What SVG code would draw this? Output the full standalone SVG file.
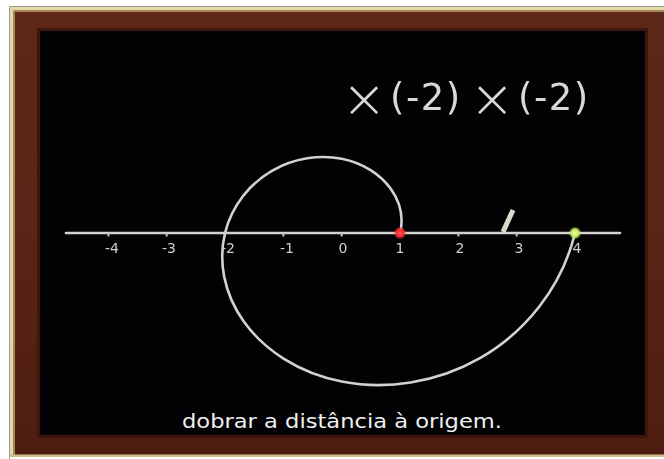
<svg xmlns="http://www.w3.org/2000/svg" width="664" height="459" viewBox="0 0 664 459">
  <defs>
    <style>
      .chalk { fill: none; stroke: #d2d2d2; stroke-width: 2.6; stroke-linecap: round; }
      .tick { stroke: #c8c8c8; stroke-width: 2; }
      .num { font-family: "DejaVu Sans", "Liberation Sans", sans-serif; font-size: 14px; fill: #cdcdcd; text-anchor: middle; }
      .big { font-family: "DejaVu Sans", "Liberation Sans", sans-serif; fill: #d8d8d8; }
      .times { font-weight: 200; }
      .sub { font-family: "DejaVu Sans", "Liberation Sans", sans-serif; font-size: 19px; fill: #f0f0f0; }
    </style>
    <linearGradient id="wood" x1="0" y1="0" x2="0" y2="1">
      <stop offset="0" stop-color="#5e2819"/>
      <stop offset="0.5" stop-color="#5a2416"/>
      <stop offset="1" stop-color="#4e1d12"/>
    </linearGradient>
    <radialGradient id="redGlow">
      <stop offset="0" stop-color="#ff5a5a"/>
      <stop offset="0.55" stop-color="#ff2a2a"/>
      <stop offset="1" stop-color="#ff2a2a" stop-opacity="0"/>
    </radialGradient>
    <radialGradient id="greenGlow">
      <stop offset="0" stop-color="#e8ff9a"/>
      <stop offset="0.55" stop-color="#c8f060"/>
      <stop offset="1" stop-color="#c8f060" stop-opacity="0"/>
    </radialGradient>
    <filter id="soft" x="-5%" y="-5%" width="110%" height="110%">
      <feGaussianBlur stdDeviation="0.5"/>
    </filter>
  </defs>

  <!-- background and frame -->
  <rect x="0" y="0" width="664" height="459" fill="#ffffff"/>
  <path d="M9.5,459 V6.5 H664" fill="none" stroke="#9a9a9a" stroke-width="1"/>
  <rect x="10" y="7" width="654" height="450" fill="url(#wood)"/>
  <rect x="10" y="7" width="654" height="3.5" fill="#e4d8a4"/>
  <rect x="10" y="7" width="3.5" height="450" fill="#e4d8a4"/>
  <rect x="13.5" y="10.5" width="650.5" height="1.5" fill="#a88a5a"/>
  <rect x="13.5" y="10.5" width="1.5" height="446.5" fill="#a88a5a"/>
  <rect x="10" y="454.5" width="654" height="2.5" fill="#cdbf8a"/>
  <rect x="37" y="28" width="611" height="410" fill="#3e160d"/>
  <rect x="40" y="31" width="605" height="404" fill="#020204"/>

  <!-- connectors: axis, ticks, spiral -->
  <g id="connectors" filter="url(#soft)">
    <line class="chalk" x1="66" y1="233" x2="620" y2="233"/>
    <g id="ticks">
      <line class="tick" x1="108.4" y1="233" x2="108.4" y2="236.5"/>
      <line class="tick" x1="166.7" y1="233" x2="166.7" y2="236.5"/>
      <line class="tick" x1="225" y1="233" x2="225" y2="236.5"/>
      <line class="tick" x1="283.4" y1="233" x2="283.4" y2="236.5"/>
      <line class="tick" x1="341.7" y1="233" x2="341.7" y2="236.5"/>
      <line class="tick" x1="400" y1="233" x2="400" y2="236.5"/>
      <line class="tick" x1="458.4" y1="233" x2="458.4" y2="236.5"/>
      <line class="tick" x1="516.7" y1="233" x2="516.7" y2="236.5"/>
      <line class="tick" x1="575" y1="233" x2="575" y2="236.5"/>
    </g>
    <path id="spiral" class="chalk" d="M400.03,233 C403.42,219.19 400.80,203.03 390.75,188.85 C380.70,174.68 363.40,163.06 341.70,158.75 C320.00,154.45 294.60,157.77 272.33,170.57 C250.07,183.36 231.81,205.38 225.04,233 C218.27,260.62 223.49,292.95 243.60,321.29 C263.71,349.64 298.31,372.88 341.70,381.49 C385.09,390.11 435.90,383.46 480.43,357.87 C524.97,332.27 561.48,288.23 575.02,233"/>
  </g>

  <!-- axis labels -->
  <g id="labels" filter="url(#soft)">
    <text class="num" x="112" y="253">-4</text>
    <text class="num" x="169" y="253">-3</text>
    <text class="num" x="228" y="253">-2</text>
    <text class="num" x="287" y="253">-1</text>
    <text class="num" x="343" y="253">0</text>
    <text class="num" x="400" y="253">1</text>
    <text class="num" x="460" y="253">2</text>
    <text class="num" x="519" y="253">3</text>
    <text class="num" x="577" y="253">4</text>
  </g>

  <!-- points -->
  <g id="point-start">
    <circle cx="400" cy="233" r="6.5" fill="url(#redGlow)"/>
  </g>
  <g id="point-end">
    <circle cx="575" cy="233" r="6.5" fill="url(#greenGlow)"/>
  </g>

  <!-- chalk stick -->
  <g id="chalk-stick">
    <line x1="503" y1="232" x2="513" y2="210" stroke="#dcd8cc" stroke-width="5" stroke-linecap="butt"/>
  </g>

  <!-- heading -->
  <g id="heading" filter="url(#soft)">
    <text class="big times" x="364" y="117" font-size="54" text-anchor="middle">×</text>
    <text class="big" x="390" y="110" font-size="37" letter-spacing="1.5">(-2)</text>
    <text class="big times" x="492" y="117" font-size="54" text-anchor="middle">×</text>
    <text class="big" x="518" y="110" font-size="37" letter-spacing="1.5">(-2)</text>
  </g>

  <!-- subtitle -->
  <g id="subtitle">
    <text class="sub" x="182" y="428" textLength="320" lengthAdjust="spacingAndGlyphs">dobrar a distância à origem.</text>
  </g>
</svg>
